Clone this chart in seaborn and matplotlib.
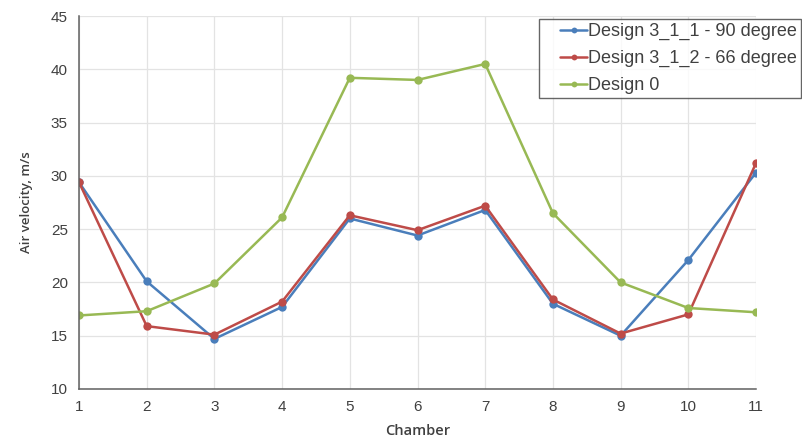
import pandas as pd
import matplotlib.pyplot as plt
import seaborn as sns
from matplotlib.ticker import MultipleLocator
from matplotlib.lines import Line2D
from matplotlib.legend_handler import HandlerLine2D

# =========================
# Datos
# =========================
chamber = [1, 2, 3, 4, 5, 6, 7, 8, 9, 10, 11]
design_90 = [29.4, 20.1, 14.7, 17.7, 26.0, 24.4, 26.8, 18.0, 15.0, 22.1, 30.3]
design_66 = [29.4, 15.9, 15.1, 18.2, 26.3, 24.9, 27.2, 18.4, 15.2, 17.0, 31.2]
design_0 = [16.9, 17.3, 19.9, 26.1, 39.2, 39.0, 40.5, 26.5, 20.0, 17.6, 17.2]

series = ["Design 3_1_1 - 90 degree", "Design 3_1_2 - 66 degree", "Design 0"]
colors = ["#4a7ebb", "#be4b48", "#98b954"]

df = pd.DataFrame({
    "Chamber": chamber * 3,
    "Velocity": design_90 + design_66 + design_0,
    "Serie": [series[0]] * 11 + [series[1]] * 11 + [series[2]] * 11,
})

# =========================
# Gráfico
# =========================
sns.set_style("white")
plt.rcParams["font.family"] = ["Liberation Sans", "DejaVu Sans"]

fig = plt.figure(figsize=(8.02, 4.38), dpi=100)
ax = fig.add_axes([79 / 802, 1 - 389 / 438, (756 - 79) / 802, (389 - 16) / 438])

sns.lineplot(data=df, x="Chamber", y="Velocity", hue="Serie", hue_order=series,
             palette=colors, marker="o", markersize=6, markeredgewidth=0,
             linewidth=1.8, ax=ax, legend=True)

ax.set_xlim(1, 11)
ax.set_ylim(10, 45)
ax.set_xticks(chamber)
ax.yaxis.set_major_locator(MultipleLocator(5))
ax.yaxis.set_minor_locator(MultipleLocator(2.5))
ax.grid(True, which="major", color="#e3e3e3", linewidth=0.9)
ax.set_axisbelow(True)

for s in ["top", "right"]:
    ax.spines[s].set_visible(False)
for s in ["left", "bottom"]:
    ax.spines[s].set_color("#606060")
    ax.spines[s].set_linewidth(1.1)

ax.tick_params(axis="both", which="major", direction="out", length=5, width=1,
               color="#606060", labelsize=11, labelcolor="#404040", pad=3)
ax.tick_params(axis="y", which="minor", direction="out", length=3, width=1, color="#606060")

ax.set_xlabel("Chamber", fontsize=10.5, color="#404040", family="Open Sans",
              weight="semibold", labelpad=7)
ax.set_ylabel("Air velocity, m/s", fontsize=9.5, color="#404040", family="Open Sans",
              weight="semibold", labelpad=13)

# leyenda: línea corta desplazada a la derecha dentro del recuadro
leg = ax.legend(loc="upper left", bbox_to_anchor=(539 / 802, 1 - 19 / 438),
                bbox_transform=fig.transFigure, fontsize=13, frameon=True,
                fancybox=False, edgecolor="#404040", handlelength=2.45,
                handletextpad=0.05, borderpad=0.22, labelspacing=0.55,
                borderaxespad=0, markerscale=0.7,
                handler_map={Line2D: HandlerLine2D(xpad=0.95)})
leg.get_frame().set_linewidth(1.0)
for t in leg.get_texts():
    t.set_color("#404040")

fig.savefig("out.png", dpi=100)
plt.close(fig)
